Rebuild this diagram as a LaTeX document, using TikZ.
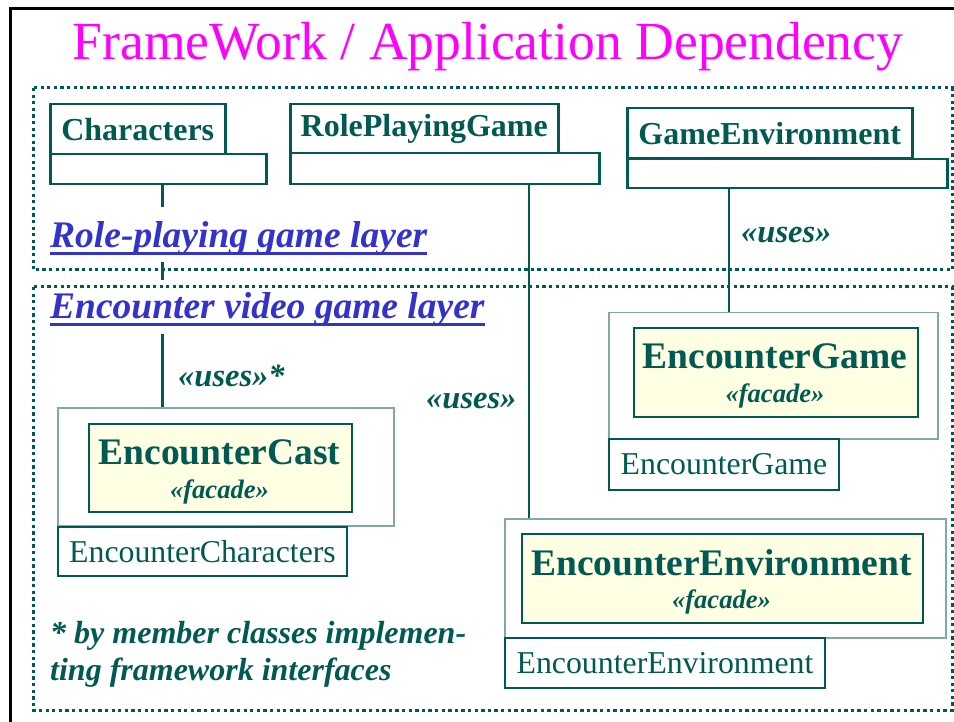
\documentclass[tikz,border=0pt]{standalone}
\usepackage{fontspec}
\setmainfont{Liberation Serif}
\definecolor{teal0}{RGB}{0,90,82}
\definecolor{paleteal}{RGB}{128,168,168}
\definecolor{layerblue}{RGB}{51,51,204}
\definecolor{facadefill}{RGB}{255,255,227}
\definecolor{titlepink}{RGB}{255,0,255}
\begin{document}
\begin{tikzpicture}[x=1pt,y=-1pt,
  pkgtab/.style={draw=teal0, line width=2.5pt, fill=white, inner sep=0pt, anchor=north west,
    text=teal0, font=\fontsize{32}{36}\selectfont\bfseries},
  pkgbody/.style={draw=teal0, line width=2.5pt, fill=white, inner sep=0pt, anchor=north west},
  outerbox/.style={draw=paleteal, line width=1.5pt, fill=white, inner sep=0pt, anchor=north west},
  facadebox/.style={draw=teal0, line width=2pt, fill=facadefill, inner sep=0pt, anchor=north west},
  nametab/.style={draw=teal0, line width=2pt, fill=white, inner sep=0pt, anchor=north west,
    text=teal0, font=\fontsize{31.8}{36}\selectfont},
  classname/.style={anchor=base, inner sep=0pt, text=teal0, font=\fontsize{37.5}{40}\selectfont\bfseries},
  stereo/.style={anchor=base, inner sep=0pt, text=teal0, font=\fontsize{26.6}{30}\selectfont\bfseries\itshape},
  useslabel/.style={anchor=base west, inner sep=0pt, text=teal0, font=\fontsize{32.5}{34}\selectfont\bfseries\itshape},
  layerlabel/.style={anchor=base west, inner xsep=0pt, inner ysep=0pt, fill=white, text=layerblue,
    font=\fontsize{37.5}{40}\selectfont\bfseries\itshape},
  underline/.style={draw=layerblue, line width=3pt},
  layerframe/.style={draw=teal0, line width=3pt, dash pattern=on 3.3pt off 3.3pt},
  conn/.style={draw=teal0, line width=2.5pt},
  footnote/.style={anchor=base west, inner sep=0pt, text=teal0, font=\fontsize{32}{37}\selectfont\bfseries\itshape}]

\useasboundingbox (0,0) rectangle (954,722);

% page frame
\draw[line width=3pt, black] (10.8,722) -- (10.8,8.7) -- (954,8.7);

% title
\node[anchor=base, inner sep=0pt, text=titlepink, font=\fontsize{53.6}{60}\selectfont] (title) at (488,60)
  {FrameWork / Application Dependency};

% framework packages
\node[pkgbody, minimum width=216, minimum height=30] (charB) at (49,153) {};
\node[pkgtab, minimum width=175, minimum height=50] (charT) at (49,103) {Characters};
\node[pkgbody, minimum width=309, minimum height=31] (rpgB) at (289,152) {};
\node[pkgtab, minimum width=268, minimum height=49] (rpgT) at (289,103) {RolePlayingGame};
\node[pkgbody, minimum width=320, minimum height=29] (geB) at (626,158) {};
\node[pkgtab, minimum width=285, minimum height=50] (geT) at (626,107) {GameEnvironment};

% application packages: outer package, facade class, name tab
\node[outerbox, minimum width=336, minimum height=118] (castO) at (57,407) {};
\node[facadebox, minimum width=263, minimum height=88] (castI) at (88,423) {};
\node[nametab, minimum width=289, minimum height=49] (castN) at (57,526) {EncounterCharacters};
\node[classname] (castC) at (219.5,464) {EncounterCast};
\node[stereo] (castS) at (219.5,498) {«facade»};

\node[outerbox, minimum width=329, minimum height=126] (gameO) at (608,312) {};
\node[facadebox, minimum width=284, minimum height=89] (gameI) at (633,327) {};
\node[nametab, minimum width=230, minimum height=51] (gameN) at (608,438) {EncounterGame};
\node[classname] (gameC) at (775,368) {EncounterGame};
\node[stereo] (gameS) at (775,402) {«facade»};

\node[outerbox, minimum width=441, minimum height=119] (envO) at (504,518) {};
\node[facadebox, minimum width=401, minimum height=89] (envI) at (521,533) {};
\node[nametab, minimum width=320, minimum height=50] (envN) at (504,637) {EncounterEnvironment};
\node[classname] (envC) at (721.5,575) {EncounterEnvironment};
\node[stereo] (envS) at (721.5,608) {«facade»};

% dependencies
\draw[conn] ([xshift=4pt]charB.south) -- ([xshift=4pt]charB.south |- castO.north);
\draw[conn] ([xshift=240pt]rpgB.south west) -- ([xshift=240pt]rpgB.south west |- envO.north);
\draw[conn] ([xshift=103pt]geB.south west) -- ([xshift=103pt]geB.south west |- gameO.north);

\node[useslabel] (uses1) at (741,243) {«uses»};
\node[useslabel] (uses2) at (178,386) {«uses»*};
\node[useslabel] (uses3) at (426,408) {«uses»};

% layer labels (white backing interrupts the dependency line)
\node[layerlabel, text height=41pt, text depth=14pt] (rpLayer) at (50,248) {Role-playing game layer};
\draw[underline] ([yshift=-6pt]rpLayer.base west) -- ([yshift=-6pt]rpLayer.base east);
\node[layerlabel, text height=39pt, text depth=15pt] (encLayer) at (50,319) {Encounter video game layer};
\draw[underline] ([yshift=-6pt]encLayer.base west) -- ([yshift=-6pt]encLayer.base east);

% layer frames
\draw[layerframe] (33,88) rectangle (952,270);
\draw[layerframe] (33,287) rectangle (952,710);

% footnote
\node[footnote] (foot1) at (50,643) {* by member classes implemen-};
\node[footnote] (foot2) at (50,680) {ting framework interfaces};
\end{tikzpicture}
\end{document}
